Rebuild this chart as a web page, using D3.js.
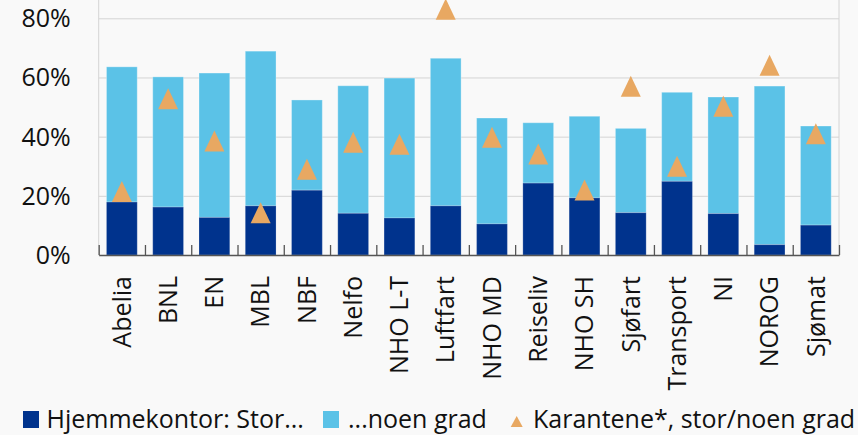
<!DOCTYPE html>
<html>
<head>
<meta charset="utf-8">
<script src="https://cdn.jsdelivr.net/npm/d3@7/dist/d3.min.js"></script>
<style>
  html, body { margin: 0; padding: 0; background: #F9F9F9; }
  svg { display: block; }
  text { font-family: "Open Sans", "Noto Sans", sans-serif; fill: #111; }
</style>
</head>
<body>
<svg id="chart" width="858" height="435"></svg>
<script>
const categories = ["Abelia","BNL","EN","MBL","NBF","Nelfo","NHO L-T","Luftfart","NHO MD","Reiseliv","NHO SH","Sjøfart","Transport","NI","NOROG","Sjømat"];
const storGrad  = [17.9,16.2,12.7,16.6,21.9,14.1,12.5,16.6,10.5,24.3,19.3,14.3,24.9,14.0,3.5,10.1];
const noenGrad  = [45.7,44.0,48.8,52.3,30.5,43.1,47.3,49.9,35.8,20.4,27.6,28.5,30.1,39.4,53.6,33.5];
const karantene = [21.5,52.8,38.5,14.3,29.0,38.1,37.4,83.1,39.8,34.1,22.0,57.0,30.0,50.3,64.1,41.0];
const yTicks = [0,20,40,60,80];
const seriesNames = ["Hjemmekontor: Stor...", "...noen grad", "Karantene*, stor/noen grad"];

const colDark = "#00338D", colLight = "#5BC2E7", colTri = "#E8A862";

const svg = d3.select("#chart");
const left = 98.7, right = 839, bottom = 255;
const y = d3.scaleLinear().domain([0, 80]).range([bottom, 18.3]);
const x = d3.scaleBand().domain(categories).range([left, right]).paddingInner(0.335).paddingOuter(0.168);

// gridlines + y labels
const yAxis = d3.axisLeft(y).tickValues(yTicks).tickSize(-(right - left)).tickPadding(28).tickFormat(d => d + "%");
const gy = svg.append("g").attr("transform", `translate(${left},0)`).call(yAxis);
gy.select(".domain").remove();
gy.selectAll(".tick line").attr("stroke", "#D4D4D4").attr("stroke-width", 1);
gy.selectAll(".tick text").attr("font-size", 25).attr("fill", "#111").attr("dy", "0.34em");

// plot borders (left & right)
svg.append("line").attr("x1", left).attr("x2", left).attr("y1", 0).attr("y2", bottom).attr("stroke", "#D4D4D4");
svg.append("line").attr("x1", right).attr("x2", right).attr("y1", 0).attr("y2", bottom).attr("stroke", "#D4D4D4");

// bars
const data = categories.map((c, i) => ({c, s: storGrad[i], n: noenGrad[i], k: karantene[i]}));
const g = svg.append("g");
g.selectAll(".light").data(data).join("rect")
  .attr("x", d => x(d.c)).attr("width", x.bandwidth())
  .attr("y", d => y(d.s + d.n)).attr("height", d => y(d.s) - y(d.s + d.n))
  .attr("fill", colLight).attr("stroke", "rgba(255,255,255,0.3)").attr("stroke-width", 1);
g.selectAll(".dark").data(data).join("rect")
  .attr("x", d => x(d.c)).attr("width", x.bandwidth())
  .attr("y", d => y(d.s)).attr("height", d => y(0) - y(d.s))
  .attr("fill", colDark).attr("stroke", "rgba(255,255,255,0.2)").attr("stroke-width", 1);

// x axis: boundary ticks
const xb = d3.scaleLinear().domain([0, categories.length]).range([left, right]);
const gx = svg.append("g").attr("transform", `translate(0,${bottom})`)
  .call(d3.axisBottom(xb).tickValues(d3.range(categories.length + 1)).tickSizeInner(-10).tickSizeOuter(0).tickFormat(""));
gx.selectAll("line, path").attr("stroke", "#555").attr("stroke-width", 1.3);

// x labels
svg.append("g").selectAll("text").data(categories).join("text")
  .attr("transform", d => `translate(${x(d) + x.bandwidth() / 2},276) rotate(-90)`)
  .attr("text-anchor", "end").attr("dy", "0.35em").attr("font-size", 25).text(d => d);

// triangle marker shape (centered at origin)
function triPath(w, h) {
  const p = d3.path();
  p.moveTo(0, -h / 2); p.lineTo(w / 2, h / 2); p.lineTo(-w / 2, h / 2); p.closePath();
  return p.toString();
}
svg.append("g").selectAll("path").data(data).join("path")
  .attr("d", triPath(20, 21))
  .attr("transform", d => `translate(${x(d.c) + x.bandwidth() / 2},${y(d.k)})`)
  .attr("fill", colTri);

// legend
const lg = svg.append("g");
lg.append("rect").attr("x", 23).attr("y", 411).attr("width", 16).attr("height", 17).attr("fill", colDark);
lg.append("text").attr("x", 46.5).attr("y", 428).attr("font-size", 25).text(seriesNames[0]);
lg.append("rect").attr("x", 323).attr("y", 411).attr("width", 16).attr("height", 17).attr("fill", colLight);
lg.append("text").attr("x", 348).attr("y", 428).attr("font-size", 25).text(seriesNames[1]);
lg.append("path").attr("d", triPath(12, 11)).attr("transform", "translate(516.7,421.5)").attr("fill", colTri);
lg.append("text").attr("x", 533).attr("y", 428).attr("font-size", 25).text(seriesNames[2]);
</script>
</body>
</html>
